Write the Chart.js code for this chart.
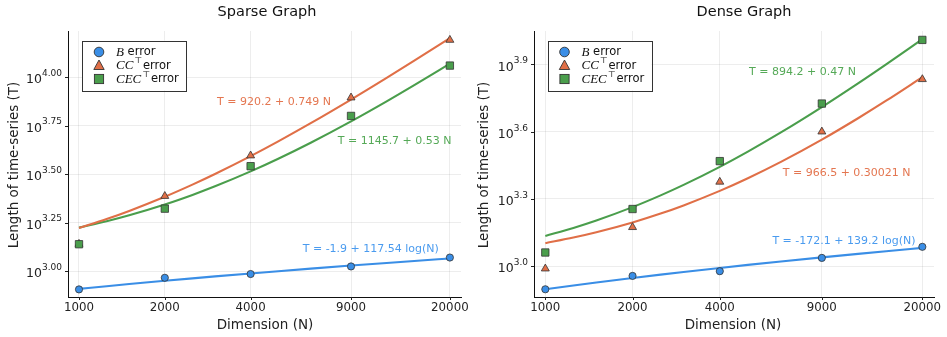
<!DOCTYPE html>
<html>
<head>
<meta charset="utf-8">
<script src="https://cdn.jsdelivr.net/npm/chart.js@4/dist/chart.umd.min.js"></script>
<style>
  html, body { margin: 0; padding: 0; background: #fff; }
  #wrap { position: relative; width: 947px; height: 337px; }
  .panel { position: absolute; top: 0; height: 337px; }
</style>
</head>
<body>
<div id="wrap">
  <div class="panel" style="left:0;width:470px"><canvas id="cL" width="470" height="337"></canvas></div>
  <div class="panel" style="left:470px;width:477px"><canvas id="cR" width="477" height="337"></canvas></div>
</div>
<script>
// ---------- data ----------
const dimensions = [1000, 2000, 4000, 9000, 20000];
const xTickLabels = ['1000', '2000', '4000', '9000', '20000'];

// Sparse graph – measured points
const sparseB   = [805, 924, 966, 1057, 1175];
const sparseCC  = [1380, 2436, 3940, 7840, 15540];
const sparseCEC = [1376, 2099, 3475, 6310, 11470];

// Dense graph – measured points
const denseB   = [789, 905, 950, 1089, 1220];
const denseCC  = [975, 1492, 2377, 3981, 6817];
const denseCEC = [1151, 1799, 2942, 5313, 10215];

// Fitted curves, values
const fitN = [1000, 1250, 1500, 2000, 2500, 3000, 4000, 5000, 6500, 9000, 12000, 15000, 20000];
const sparseFitB   = [810.0, 836.3, 857.7, 891.5, 917.7, 939.2, 973.0, 999.2, 1030.0, 1068.3, 1102.1, 1128.3, 1162.1];
const sparseFitCC  = [1669.2, 1856.5, 2043.7, 2418.2, 2792.7, 3167.2, 3916.2, 4665.2, 5788.7, 7661.2, 9908.2, 12155.2, 15900.2];
const sparseFitCEC = [1675.7, 1808.2, 1940.7, 2205.7, 2470.7, 2735.7, 3265.7, 3795.7, 4590.7, 5915.7, 7505.7, 9095.7, 11745.7];
const denseFitB    = [789.5, 820.5, 845.9, 886.0, 917.0, 942.4, 982.4, 1013.5, 1050.0, 1095.3, 1135.4, 1166.4, 1206.5];
const denseFitCC   = [1266.7, 1341.8, 1416.8, 1566.9, 1717.0, 1867.1, 2167.3, 2467.6, 2917.9, 3668.4, 4569.0, 5469.7, 6970.7];
const denseFitCEC  = [1364.2, 1481.7, 1599.2, 1834.2, 2069.2, 2304.2, 2774.2, 3244.2, 3949.2, 5124.2, 6534.2, 7944.2, 10294.2];

// y tick exponents (labels shown as 10^exp)
const sparseYExp = ['3.00', '3.25', '3.50', '3.75', '4.00'];
const denseYExp  = ['3.0', '3.3', '3.6', '3.9'];

// fit annotations
const sparseNotes = [
  { x: 4830, y: 7460, text: 'T = 920.2 + 0.749 N', series: 1 },
  { x: 12800, y: 4656, text: 'T = 1145.7 + 0.53 N', series: 2 },
  { x: 10560, y: 1297, text: 'T = -1.9 + 117.54 log(N)', series: 0 }
];
const denseNotes = [
  { x: 7720, y: 7340, text: 'T = 894.2 + 0.47 N', series: 2 },
  { x: 10960, y: 2590, text: 'T = 966.5 + 0.30021 N', series: 1 },
  { x: 10730, y: 1298, text: 'T = -172.1 + 139.2 log(N)', series: 0 }
];

// ---------- styling ----------
const COLORS = ['#3a8ee6', '#e06f47', '#4a9e4c'];
const NOTE_COLORS = ['#4a9bef', '#e47650', '#55a957'];
const FONT = '"DejaVu Sans", sans-serif';
const MATH = '"Liberation Serif", "DejaVu Serif", serif';

function pts(xs, ys) { return xs.map((x, i) => ({ x: x, y: ys[i] })); }

function drawLegend(ctx, x, y) {
  const w = 104, h = 50;
  ctx.save();
  ctx.fillStyle = '#fff';
  ctx.fillRect(x, y, w, h);
  ctx.strokeStyle = '#333';
  ctx.lineWidth = 1;
  ctx.strokeRect(Math.round(x) + 0.5, Math.round(y) + 0.5, w, h);
  const mx = x + 17;
  const rows = [y + 11.5, y + 25, y + 38.5];
  ctx.strokeStyle = '#333';
  ctx.lineWidth = 0.9;
  ctx.fillStyle = COLORS[0];
  ctx.beginPath(); ctx.arc(mx, rows[0], 4.8, 0, Math.PI * 2); ctx.fill(); ctx.stroke();
  ctx.fillStyle = COLORS[1];
  ctx.beginPath();
  ctx.moveTo(mx, rows[1] - 5.5); ctx.lineTo(mx + 5.2, rows[1] + 4); ctx.lineTo(mx - 5.2, rows[1] + 4); ctx.closePath();
  ctx.fill(); ctx.stroke();
  ctx.fillStyle = COLORS[2];
  ctx.fillRect(mx - 4.6, rows[2] - 4.6, 9.2, 9.2); ctx.strokeRect(mx - 4.6, rows[2] - 4.6, 9.2, 9.2);

  ctx.fillStyle = '#111';
  ctx.textBaseline = 'middle';
  ctx.textAlign = 'left';
  const tx = x + 34;
  const entries = [['B', false], ['CC', true], ['CEC', true]];
  entries.forEach((e, i) => {
    let cx = tx;
    ctx.font = 'italic 13px ' + MATH;
    ctx.fillText(e[0], cx, rows[i] + 0.5);
    cx += ctx.measureText(e[0]).width;
    if (e[1]) {
      ctx.font = '8.5px ' + MATH;
      ctx.fillText('\u22A4', cx + 1, rows[i] - 4.5);
      cx += 6;
    }
    ctx.font = '11.5px ' + FONT;
    ctx.fillText(' error', cx, rows[i] + 0.5);
  });
  ctx.restore();
}

function makeChart(id, opt) {
  const decor = {
    id: 'decor' + id,
    afterDraw(chart) {
      const ctx = chart.ctx;
      const ca = chart.chartArea;
      const xs = chart.scales.x, ys = chart.scales.y;
      ctx.save();
      ctx.strokeStyle = '#222';
      ctx.lineWidth = 1;
      ctx.beginPath();
      dimensions.forEach(v => {
        const px = Math.round(xs.getPixelForValue(v)) + 0.5;
        ctx.moveTo(px, ca.bottom); ctx.lineTo(px, ca.bottom + 3);
      });
      opt.yExp.forEach(e => {
        const py = Math.round(ys.getPixelForValue(Math.pow(10, parseFloat(e)))) + 0.5;
        ctx.moveTo(ca.left - 3, py); ctx.lineTo(ca.left, py);
      });
      ctx.stroke();
      ctx.fillStyle = '#222';
      ctx.font = '11.8px ' + FONT;
      ctx.textAlign = 'center';
      ctx.textBaseline = 'middle';
      dimensions.forEach((v, i) => {
        ctx.fillText(xTickLabels[i], xs.getPixelForValue(v), ca.bottom + 10.5);
      });
      opt.yExp.forEach(e => {
        const py = ys.getPixelForValue(Math.pow(10, parseFloat(e)));
        ctx.font = '9px ' + FONT;
        const sw = ctx.measureText(e).width;
        ctx.font = '12.5px ' + FONT;
        const bw = ctx.measureText('10').width;
        const right = ca.left - 6;
        ctx.textAlign = 'left';
        ctx.font = '12.5px ' + FONT;
        ctx.fillText('10', right - sw - bw, py + 3);
        ctx.font = '9px ' + FONT;
        ctx.fillText(e, right - sw, py - 3.5);
      });
      ctx.textAlign = 'center';
      ctx.font = '14.5px ' + FONT;
      ctx.fillStyle = '#111';
      ctx.fillText(opt.title, ca.left + opt.titleDx, 12.5);
      ctx.font = '13.5px ' + FONT;
      ctx.fillStyle = '#222';
      ctx.fillText('Dimension (N)', ca.left + opt.xTitleDx, 325);
      ctx.save();
      ctx.translate(opt.yTitleX, (ca.top + ca.bottom) / 2 + 1);
      ctx.rotate(-Math.PI / 2);
      ctx.fillText('Length of time-series (T)', 0, 0);
      ctx.restore();
      ctx.font = '11px ' + FONT;
      opt.notes.forEach(n => {
        ctx.fillStyle = NOTE_COLORS[n.series];
        ctx.fillText(n.text, xs.getPixelForValue(n.x), ys.getPixelForValue(n.y));
      });
      ctx.restore();
      drawLegend(ctx, ca.left + opt.legendDx, ca.top + 9.5);
    }
  };

  const markerBase = { type: 'scatter', showLine: false, borderColor: '#333', borderWidth: 0.8, order: 0 };
  const lineBase = { type: 'line', pointRadius: 0, borderWidth: 2.1, fill: false, cubicInterpolationMode: 'monotone', order: 1 };

  return new Chart(document.getElementById(id), {
    data: {
      datasets: [
        Object.assign({ label: 'B fit', data: pts(fitN, opt.fit[0]), borderColor: COLORS[0] }, lineBase),
        Object.assign({ label: 'CC fit', data: pts(fitN, opt.fit[1]), borderColor: COLORS[1] }, lineBase),
        Object.assign({ label: 'CEC fit', data: pts(fitN, opt.fit[2]), borderColor: COLORS[2] }, lineBase),
        Object.assign({ label: 'CEC error', data: pts(dimensions, opt.pts[2]), backgroundColor: COLORS[2], pointStyle: 'rect', pointRadius: 5.2 }, markerBase),
        Object.assign({ label: 'CC error', data: pts(dimensions, opt.pts[1]), backgroundColor: COLORS[1], pointStyle: 'triangle', pointRadius: 4.6 }, markerBase),
        Object.assign({ label: 'B error', data: pts(dimensions, opt.pts[0]), backgroundColor: COLORS[0], pointStyle: 'circle', pointRadius: 3.6 }, markerBase)
      ]
    },
    options: {
      responsive: false,
      devicePixelRatio: 1,
      animation: false,
      events: [],
      layout: { padding: { left: 0, right: opt.padRight, top: 31, bottom: 0 } },
      plugins: { legend: { display: false }, title: { display: false }, tooltip: { enabled: false } },
      scales: {
        x: {
          type: 'logarithmic',
          min: opt.xMin, max: opt.xMax,
          afterBuildTicks: s => { s.ticks = dimensions.map(v => ({ value: v })); },
          afterFit: s => { s.height = 40; },
          ticks: { display: false },
          grid: { color: 'rgba(0,0,0,0.07)', lineWidth: 1, drawTicks: false },
          border: { display: true, color: '#111', width: 1 }
        },
        y: {
          type: 'logarithmic',
          min: opt.yMin, max: opt.yMax,
          afterBuildTicks: s => { s.ticks = opt.yExp.map(e => ({ value: Math.pow(10, parseFloat(e)) })); },
          afterFit: s => { s.width = opt.yWidth; },
          ticks: { display: false },
          grid: { color: 'rgba(0,0,0,0.07)', lineWidth: 1, drawTicks: false },
          border: { display: true, color: '#111', width: 1 }
        }
      }
    },
    plugins: [decor]
  });
}

makeChart('cL', {
  title: 'Sparse Graph', titleDx: 199, xTitleDx: 197, yTitleX: 14, legendDx: 14,
  yWidth: 68, padRight: 9,
  xMin: 915, xMax: 21880, yMin: 735.5, yMax: 17290,
  yExp: sparseYExp,
  pts: [sparseB, sparseCC, sparseCEC],
  fit: [sparseFitB, sparseFitCC, sparseFitCEC],
  notes: sparseNotes
});

makeChart('cR', {
  title: 'Dense Graph', titleDx: 210, xTitleDx: 199, yTitleX: 14, legendDx: 13.5,
  yWidth: 64, padRight: 13,
  xMin: 914, xMax: 21940, yMin: 728.8, yMax: 11194,
  yExp: denseYExp,
  pts: [denseB, denseCC, denseCEC],
  fit: [denseFitB, denseFitCC, denseFitCEC],
  notes: denseNotes
});
</script>
</body>
</html>
